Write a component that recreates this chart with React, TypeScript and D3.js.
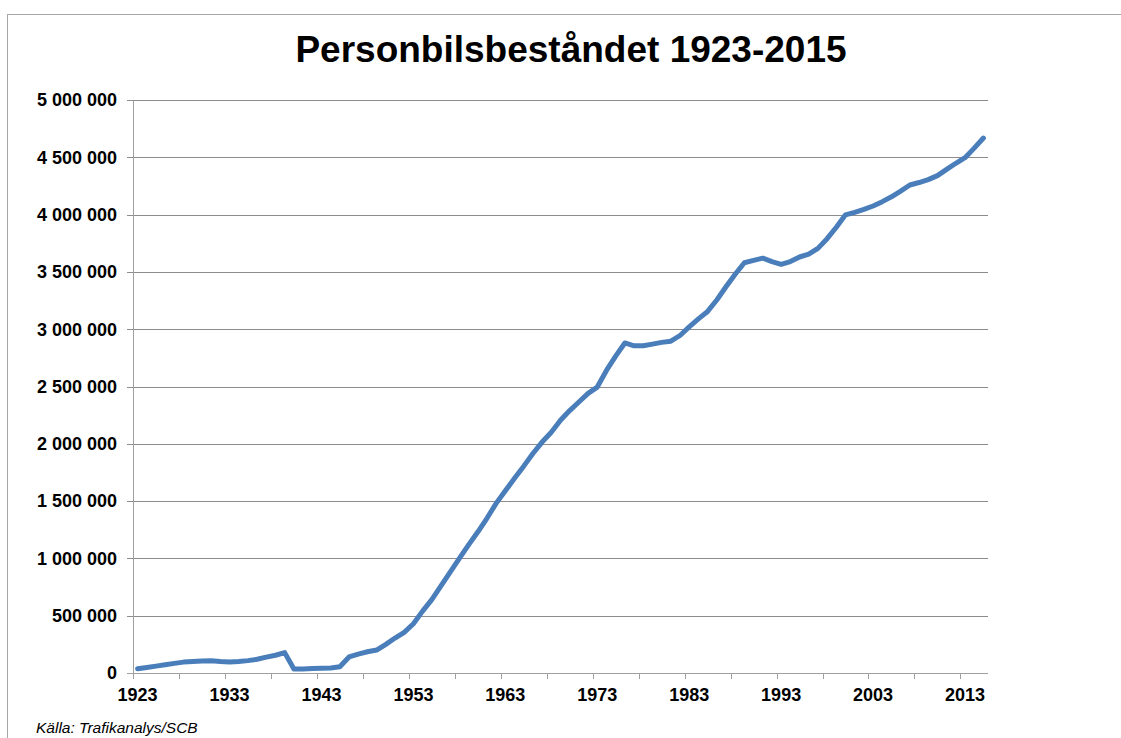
import React from "react";
import * as d3 from "d3";

const years: number[] = d3.range(1923, 2016);
const cars: number[] = [
  37000, 48000, 60000, 72000, 84000, 95000, 100000, 104000, 106000, 100000,
  97000, 101000, 108000, 120000, 138000, 155000, 178000, 35000, 35000, 40000,
  42000, 44000, 55000, 140000, 165000, 185000, 200000, 250000, 305000, 355000,
  430000, 540000, 640000, 760000, 880000, 1000000, 1118000, 1230000, 1350000, 1480000,
  1590000, 1700000, 1805000, 1915000, 2015000, 2100000, 2205000, 2290000, 2365000, 2440000,
  2495000, 2640000, 2765000, 2880000, 2855000, 2855000, 2870000, 2885000, 2895000, 2945000,
  3020000, 3090000, 3155000, 3255000, 3370000, 3480000, 3580000, 3600000, 3620000, 3590000,
  3566000, 3590000, 3630000, 3655000, 3705000, 3790000, 3890000, 3998000, 4020000, 4045000,
  4075000, 4113000, 4155000, 4205000, 4258000, 4280000, 4305000, 4340000, 4395000, 4448000,
  4497000, 4580000, 4668000,
];
const yTicks: number[] = d3.range(0, 5000001, 500000);
const xLabelYears: number[] = d3.range(1923, 2016, 10);
const title = "Personbilsbeståndet 1923-2015";
const source = "Källa: Trafikanalys/SCB";

export default function App() {
  const W = 1121, H = 738;
  const left = 133, right = 988, top = 100, bottom = 673;
  const x = d3.scaleBand<number>().domain(years).range([left, right]).paddingInner(0).paddingOuter(0);
  const bw = x.bandwidth();
  const cx = (yr: number) => (x(yr) as number) + bw / 2;
  const y = d3.scaleLinear().domain([0, 5000000]).range([bottom, top]);
  const fmt = (v: number) => d3.format(",")(v).replace(/,/g, " ");
  const line = d3.line<number>().x((_, i) => cx(years[i])).y((d) => y(d));
  const tickIdx = d3.range(0, years.length, 5);
  const font = "Arial, 'Liberation Sans', sans-serif";

  return (
    <svg width={W} height={H} style={{ position: "absolute", left: 0, top: 0, background: "#fff" }} fontFamily={font}>
      <rect x={7.5} y={14.5} width={W + 20} height={H + 20} fill="#fff" stroke="#a6a6a6" strokeWidth={1} />
      <text x={571} y={61.5} textAnchor="middle" fontSize={37} fontWeight="bold" fill="#000">{title}</text>
      {yTicks.map((t) => (
        <g key={t}>
          <line x1={left - 6} x2={right} y1={Math.round(y(t)) + 0.5} y2={Math.round(y(t)) + 0.5}
            stroke={t === 0 ? "#a0a0a0" : "#8c8c8c"} strokeWidth={1} />
          <text x={117} y={y(t)} dy="0.35em" textAnchor="end" fontSize={18} fontWeight="bold" fill="#000">{fmt(t)}</text>
        </g>
      ))}
      <line x1={left + 0.5} x2={left + 0.5} y1={top} y2={bottom + 6} stroke="#a0a0a0" strokeWidth={1} />
      {tickIdx.map((i) => (
        <line key={i} x1={Math.round(x(years[i]) as number) + 0.5} x2={Math.round(x(years[i]) as number) + 0.5}
          y1={bottom} y2={bottom + 6} stroke="#a0a0a0" strokeWidth={1} />
      ))}
      {xLabelYears.map((yr) => (
        <text key={yr} x={cx(yr)} y={701} textAnchor="middle" fontSize={18} fontWeight="bold" fill="#000">{yr}</text>
      ))}
      <path d={line(cars) as string} fill="none" stroke="#4a7ebb" strokeWidth={5} strokeLinejoin="round" strokeLinecap="round" />
      <text x={36} y={733} fontSize={15.5} fontStyle="italic" fill="#000">{source}</text>
    </svg>
  );
}
